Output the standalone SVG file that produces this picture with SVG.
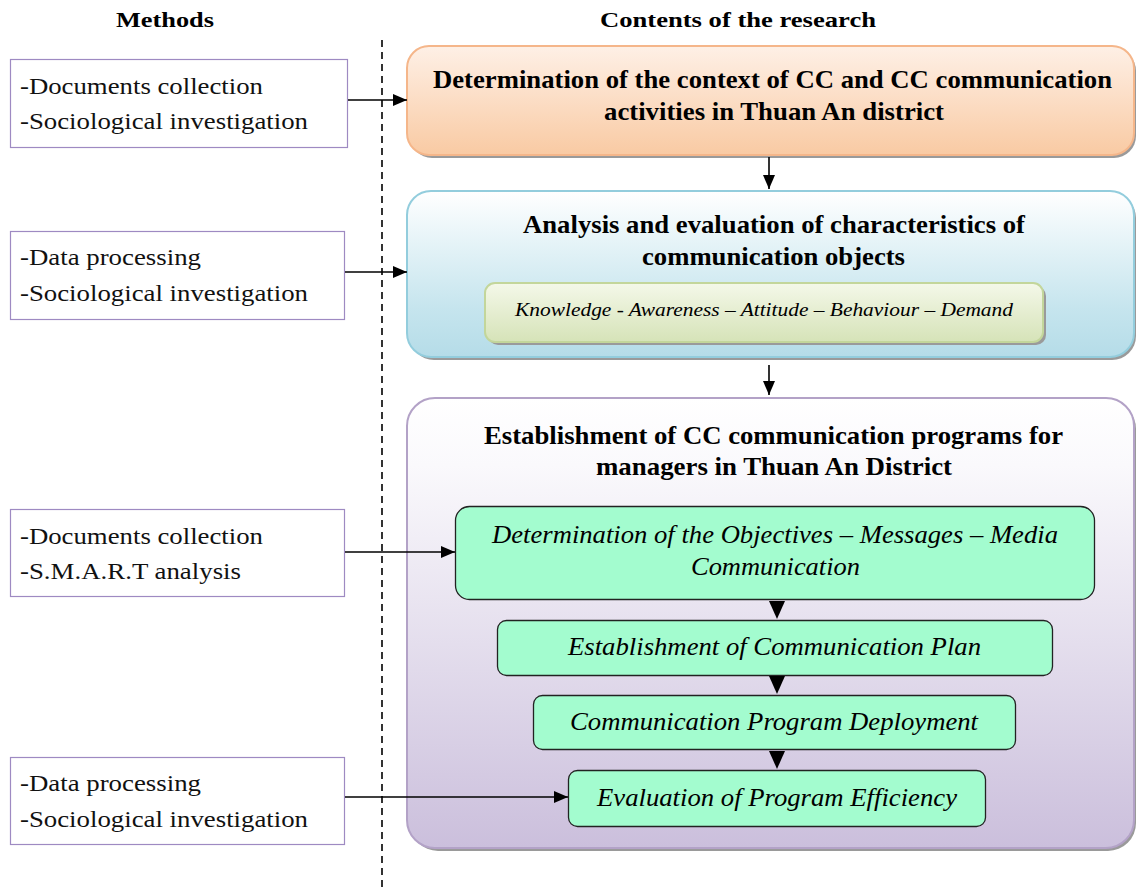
<svg xmlns="http://www.w3.org/2000/svg" width="1136" height="890" viewBox="0 0 1136 890">
<defs>
<linearGradient id="gOrange" x1="0" y1="0" x2="0" y2="1"><stop offset="0" stop-color="#fef0e6"/><stop offset="1" stop-color="#f9caa3"/></linearGradient>
<linearGradient id="gBlue" x1="0" y1="0" x2="0" y2="1"><stop offset="0" stop-color="#ffffff"/><stop offset="0.7" stop-color="#c6e5ee"/><stop offset="1" stop-color="#b5dce8"/></linearGradient>
<linearGradient id="gPurple" x1="0" y1="0" x2="0" y2="1"><stop offset="0" stop-color="#ffffff"/><stop offset="0.15" stop-color="#faf9fc"/><stop offset="1" stop-color="#cbbfdc"/></linearGradient>
<linearGradient id="gOlive" x1="0" y1="0" x2="0" y2="1"><stop offset="0" stop-color="#f4f8e9"/><stop offset="1" stop-color="#d6e3b8"/></linearGradient>
<marker id="arrL" viewBox="0 0 14 12" refX="14" refY="6" markerWidth="14" markerHeight="12" markerUnits="userSpaceOnUse" orient="auto"><path d="M0,0 L14,6 L0,12 z" fill="#000"/></marker>
</defs>
<style>
.hdr{font-family:"Liberation Serif",serif;font-weight:bold;font-size:22px;fill:#000;text-anchor:middle}
.meth{fill:#fff;stroke:#9e8ac2;stroke-width:1.2}
.mt{font-family:"Liberation Serif",serif;font-size:24px;fill:#111}
.big{font-family:"Liberation Serif",serif;font-weight:bold;font-size:25px;fill:#000;text-anchor:middle}
.it{font-family:"Liberation Serif",serif;font-style:italic;font-size:25px;fill:#000;text-anchor:middle}
.sm{font-family:"Liberation Serif",serif;font-style:italic;font-size:19px;fill:#000;text-anchor:middle}
.green{fill:#a3fccf;stroke:#222;stroke-width:1.3}
.shadow{fill:#9a9a9a}
.conn{stroke:#000;stroke-width:1.6;fill:none}
</style>

<text class="hdr" x="165" y="27" textLength="98" lengthAdjust="spacingAndGlyphs">Methods</text>
<text class="hdr" x="738" y="27" textLength="276" lengthAdjust="spacingAndGlyphs">Contents of the research</text>
<line x1="382" y1="40" x2="382" y2="890" stroke="#000" stroke-width="1.6" stroke-dasharray="7,5"/>

<g id="m1"><rect class="meth" x="10.5" y="59.5" width="337" height="88"/>
<text class="mt" x="20" y="94" textLength="243" lengthAdjust="spacingAndGlyphs">-Documents collection</text>
<text class="mt" x="20" y="129" textLength="288" lengthAdjust="spacingAndGlyphs">-Sociological investigation</text></g>

<g id="m2"><rect class="meth" x="10.5" y="231.5" width="334" height="88"/>
<text class="mt" x="20" y="265" textLength="181" lengthAdjust="spacingAndGlyphs">-Data processing</text>
<text class="mt" x="20" y="301" textLength="288" lengthAdjust="spacingAndGlyphs">-Sociological investigation</text></g>

<g id="m3"><rect class="meth" x="10.5" y="509.5" width="334" height="87"/>
<text class="mt" x="20" y="544" textLength="243" lengthAdjust="spacingAndGlyphs">-Documents collection</text>
<text class="mt" x="20" y="579" textLength="221" lengthAdjust="spacingAndGlyphs">-S.M.A.R.T analysis</text></g>

<g id="m4"><rect class="meth" x="10.5" y="757.5" width="334" height="87"/>
<text class="mt" x="20" y="791" textLength="181" lengthAdjust="spacingAndGlyphs">-Data processing</text>
<text class="mt" x="20" y="827" textLength="288" lengthAdjust="spacingAndGlyphs">-Sociological investigation</text></g>

<g id="c1">
<rect class="shadow" x="410" y="49" width="726" height="109" rx="22"/>
<rect x="407" y="46" width="727" height="109" rx="22" fill="url(#gOrange)" stroke="#f5b68a" stroke-width="2"/>
<text class="big" x="772.5" y="88" textLength="679" lengthAdjust="spacingAndGlyphs">Determination of the context of CC and CC communication</text>
<text class="big" x="774" y="120" textLength="340" lengthAdjust="spacingAndGlyphs">activities in Thuan An district</text>
</g>

<g id="c2">
<rect class="shadow" x="410" y="194" width="726" height="166" rx="24"/>
<rect x="407" y="191" width="727" height="166" rx="24" fill="url(#gBlue)" stroke="#93cddd" stroke-width="2"/>
<text class="big" x="774" y="233" textLength="502" lengthAdjust="spacingAndGlyphs">Analysis and evaluation of characteristics of</text>
<text class="big" x="773.5" y="265" textLength="263" lengthAdjust="spacingAndGlyphs">communication objects</text>
<g id="c2a">
<rect class="shadow" x="488" y="286" width="558" height="59" rx="10"/>
<rect x="485" y="283" width="558" height="59" rx="10" fill="url(#gOlive)" stroke="#c3d69b" stroke-width="2"/>
<text class="sm" x="764" y="316" textLength="498" lengthAdjust="spacingAndGlyphs">Knowledge - Awareness – Attitude – Behaviour – Demand</text>
</g>
</g>

<g id="c3">
<rect class="shadow" x="410" y="401" width="726" height="450" rx="28"/>
<rect x="407" y="398" width="727" height="450" rx="28" fill="url(#gPurple)" stroke="#b3a2c7" stroke-width="2"/>
<text class="big" x="773.5" y="444" textLength="579" lengthAdjust="spacingAndGlyphs">Establishment of CC communication programs for</text>
<text class="big" x="774" y="475" textLength="356" lengthAdjust="spacingAndGlyphs">managers in Thuan An District</text>
</g>

<g id="s1"><rect class="green" x="455.5" y="506.5" width="639" height="93" rx="14"/>
<text class="it" x="775" y="543" textLength="566" lengthAdjust="spacingAndGlyphs">Determination of the Objectives – Messages – Media</text>
<text class="it" x="775.5" y="575" textLength="169" lengthAdjust="spacingAndGlyphs">Communication</text></g>
<g id="s2"><rect class="green" x="497.5" y="620.5" width="555" height="55" rx="9"/>
<text class="it" x="774.5" y="655" textLength="413" lengthAdjust="spacingAndGlyphs">Establishment of Communication Plan</text></g>
<g id="s3"><rect class="green" x="533.5" y="695.5" width="482" height="54" rx="9"/>
<text class="it" x="774" y="730" textLength="408" lengthAdjust="spacingAndGlyphs">Communication Program Deployment</text></g>
<g id="s4"><rect class="green" x="568.5" y="770.5" width="417" height="56" rx="9"/>
<text class="it" x="777" y="806" textLength="360" lengthAdjust="spacingAndGlyphs">Evaluation of Program Efficiency</text></g>

<g id="connectors">
<line class="conn" x1="348" y1="100" x2="407" y2="100" marker-end="url(#arrL)"/>
<line class="conn" x1="345" y1="272" x2="407" y2="272" marker-end="url(#arrL)"/>
<line class="conn" x1="345" y1="552" x2="455" y2="552" marker-end="url(#arrL)"/>
<line class="conn" x1="345" y1="797" x2="568" y2="797" marker-end="url(#arrL)"/>
<line class="conn" x1="769" y1="157" x2="769" y2="189" marker-end="url(#arrL)"/>
<line class="conn" x1="769" y1="365" x2="769" y2="395" marker-end="url(#arrL)"/>
<path d="M769,601 L785,601 L777,619 z" fill="#000"/>
<path d="M769,676 L785,676 L777,694 z" fill="#000"/>
<path d="M769,751 L785,751 L777,769 z" fill="#000"/>
</g>
</svg>
